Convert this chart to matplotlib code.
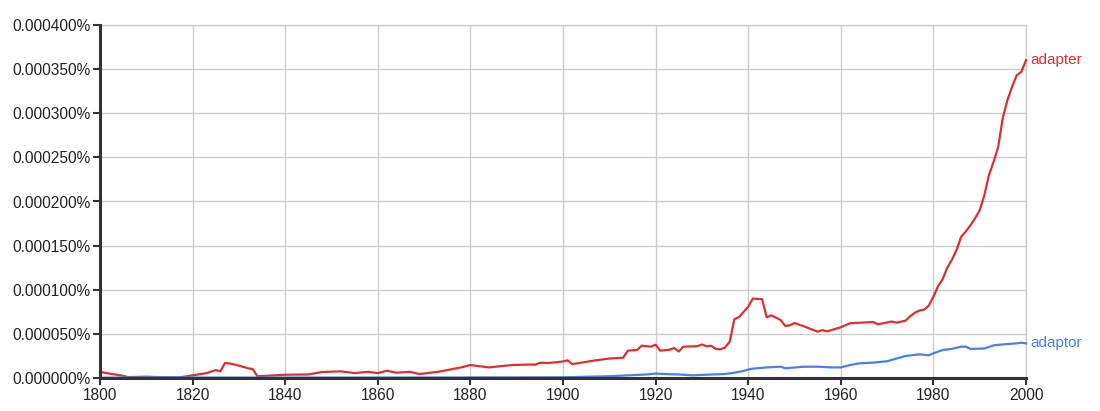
import matplotlib.pyplot as plt
import numpy as np

plt.rcParams['font.family'] = ['Liberation Sans', 'DejaVu Sans']

# values in units of 0.000001 %
adapter_years = [1800, 1802, 1805, 1806, 1810, 1815, 1817, 1820, 1823, 1825, 1826, 1827, 1828,
                 1830, 1832, 1833, 1834, 1836, 1840, 1845, 1848, 1852, 1855, 1858, 1860, 1862,
                 1864, 1867, 1869, 1873, 1878, 1880, 1884, 1889, 1893, 1894, 1895, 1897, 1900,
                 1901, 1902, 1907, 1910, 1913, 1914, 1916, 1917, 1919, 1920, 1921, 1923, 1924,
                 1925, 1926, 1929, 1930, 1931, 1932, 1933, 1934, 1935, 1936, 1937, 1938, 1940,
                 1941, 1943, 1944, 1945, 1947, 1948, 1949, 1950, 1952, 1955, 1956, 1957, 1960,
                 1962, 1964, 1967, 1968, 1971, 1972, 1974, 1975, 1976, 1977, 1978, 1979, 1980,
                 1981, 1982, 1983, 1984, 1985, 1986, 1987, 1988, 1989, 1990, 1991, 1992, 1993,
                 1994, 1995, 1996, 1997, 1998, 1999, 2000]
adapter = [7, 5, 2.5, 1, 1.5, 0.5, 0.5, 3, 5.5, 9, 7.5, 17, 16.5,
           14, 11, 10, 2, 2.5, 3.7, 4, 6.8, 7.5, 5.6, 7, 5.5, 8.3,
           6, 7, 4.5, 7, 12, 14.7, 12, 14.7, 15.3, 15, 17.3, 17, 18.7,
           20, 15.7, 20, 22, 23, 31, 31.7, 36.6, 35.5, 37.8, 31, 32, 34,
           30, 35.5, 36, 38, 36, 36.5, 33, 32.5, 34.6, 41, 66.5, 69, 80.8,
           90, 89.3, 68.8, 71, 65.7, 59, 59.7, 62.3, 58.6, 52.5, 54.3, 52.8, 57.5,
           62, 62.6, 63.4, 60.8, 64, 62.6, 65, 70, 74, 76.5, 77.4, 82, 92,
           104, 112, 125, 134, 145, 160, 166, 173, 181, 190, 207, 230, 245,
           262, 295, 315, 330, 343, 347, 360]

adaptor_years = [1800, 1815, 1820, 1860, 1900, 1910, 1918, 1920, 1922, 1925, 1928, 1932, 1935,
                 1937, 1939, 1940, 1941, 1944, 1947, 1948, 1952, 1955, 1958, 1960, 1962, 1964,
                 1967, 1970, 1972, 1974, 1977, 1979, 1980, 1982, 1984, 1986, 1987, 1988, 1991,
                 1993, 1996, 1998, 1999, 2000]
adaptor = [0.3, 1, 0.5, 0.5, 0.8, 2, 4, 5, 4.5, 4, 3, 4, 4.5,
           6, 8, 9.5, 10.6, 12, 12.8, 11, 12.8, 12.8, 12, 12, 14.7, 16.6,
           17.4, 19, 22, 25, 26.8, 25.7, 28, 31.7, 33, 35.5, 35.5, 33, 33.4,
           37, 38.5, 39.3, 40, 39.3]

red = '#dc3030'
blue = '#4a7fe6'

fig = plt.figure(figsize=(11, 4.11), dpi=100)
ax = fig.add_axes([100/1100, 1 - 378/411, 926/1100, 353/411])

ax.plot(adapter_years, adapter, color=red, lw=1.6, zorder=3, clip_on=False)
ax.plot(adaptor_years, adaptor, color=blue, lw=1.6, zorder=3, clip_on=False)

ax.set_xlim(1800, 2000)
ax.set_ylim(0, 400)
ax.set_xticks(np.arange(1800, 2001, 20))
ax.set_yticks(np.arange(0, 401, 50))
ax.set_yticklabels([f'{v * 1e-6:.6f}%' for v in np.arange(0, 401, 50)])

ax.grid(True, color='#cccccc', lw=1)
ax.set_axisbelow(True)
for s in ['top', 'right']:
    ax.spines[s].set_color('#cccccc')
    ax.spines[s].set_linewidth(1)
for s in ['left', 'bottom']:
    ax.spines[s].set_color('#333333')
    ax.spines[s].set_linewidth(2.2)
    ax.spines[s].set_zorder(4)
ax.tick_params(axis='both', colors='#333333', labelcolor='#222222', labelsize=11.2,
               length=5, width=1.5, pad=2)

ax.text(2001, adapter[-1], 'adapter', color=red, fontsize=11, va='center', ha='left')
ax.text(2001, adaptor[-1], 'adaptor', color=blue, fontsize=11, va='center', ha='left')

fig.savefig('out.png', dpi=100)
